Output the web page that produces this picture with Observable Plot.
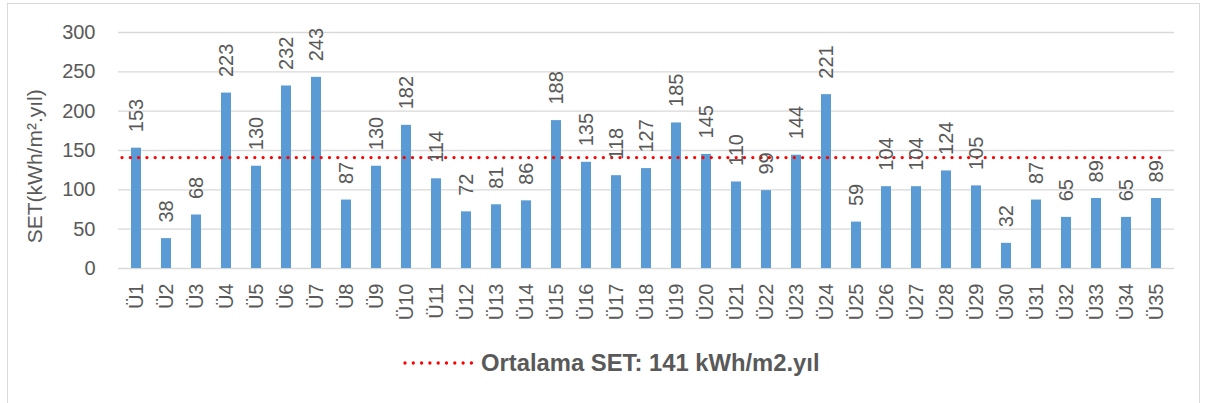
<!DOCTYPE html>
<html><head><meta charset="utf-8">
<script src="https://cdn.jsdelivr.net/npm/d3@7"></script>
<script src="https://cdn.jsdelivr.net/npm/@observablehq/plot@0.6"></script>
<style>
body{margin:0;background:#fff;font-family:"Liberation Sans",Arial,sans-serif;}
#wrap{position:relative;width:1208px;height:403px;overflow:hidden;background:#fff;}
#frame{position:absolute;left:7px;top:3px;width:1193px;height:430px;border:1px solid #d9d9d9;box-sizing:border-box;}
#chart{position:absolute;left:0;top:0;}
#legend{position:absolute;left:403px;top:348px;height:30px;display:flex;align-items:center;color:#595959;font-weight:bold;font-size:23.8px;font-family:"Liberation Sans",Arial,sans-serif;white-space:nowrap;}
#legend svg{margin-right:8px;}
</style>
</head><body>
<div id="wrap"><div id="frame"></div><div id="chart"></div>
<div id="legend"><svg width="70" height="8"><line x1="2" x2="70" y1="4" y2="4" stroke="#FF0000" stroke-width="3.3" stroke-dasharray="0 8.3" stroke-linecap="round"/></svg><span id="legtext"></span></div>
</div>
<script>
const categories = ["Ü1","Ü2","Ü3","Ü4","Ü5","Ü6","Ü7","Ü8","Ü9","Ü10","Ü11","Ü12","Ü13","Ü14","Ü15","Ü16","Ü17","Ü18","Ü19","Ü20","Ü21","Ü22","Ü23","Ü24","Ü25","Ü26","Ü27","Ü28","Ü29","Ü30","Ü31","Ü32","Ü33","Ü34","Ü35"];
const values = [153,38,68,223,130,232,243,87,130,182,114,72,81,86,188,135,118,127,185,145,110,99,144,221,59,104,104,124,105,32,87,65,89,65,89];
const average = 141;
const yTicks = [0,50,100,150,200,250,300];
const yLabel = "SET(kWh/m².yıl)";
const legendLabel = "Ortalama SET: 141 kWh/m2.yıl";

const data = categories.map((c,i)=>({cat:c, val:values[i]}));
const txt = "#595959";

const chart = Plot.plot({
  width:1208, height:330,
  marginLeft:118, marginRight:34, marginTop:32, marginBottom:62,
  style:{fontFamily:'"Liberation Sans",Arial,sans-serif', color:txt, background:"transparent"},
  x:{domain:categories, paddingInner:0.67, paddingOuter:0.335, label:null},
  y:{domain:[0,300], label:null},
  marks:[
    Plot.gridY(yTicks, {stroke:"#d9d9d9", strokeOpacity:1, strokeWidth:1.3}),
    Plot.barY(data, {x:"cat", y:"val", fill:"#5B9BD5"}),
    Plot.ruleY([average], {stroke:"#FF0000", strokeWidth:3.3, strokeDasharray:"0 8.3", strokeLinecap:"round", insetLeft:4, insetRight:14}),
    Plot.text(data, {x:"cat", y:"val", text:d=>String(d.val), rotate:-90, textAnchor:"start", lineAnchor:"middle", dy:-16, fontSize:20, fill:txt}),
    Plot.axisY({ticks:yTicks, tickSize:0, tickPadding:23, fontSize:20, label:null}),
    Plot.axisX({tickRotate:-90, tickSize:0, tickPadding:15, fontSize:20, label:null}),
    Plot.text([yLabel], {frameAnchor:"left", y:[130], text:d=>d, rotate:-90, dx:-83, textAnchor:"middle", lineAnchor:"middle", fontSize:21, fill:txt})
  ]
});
document.getElementById("chart").appendChild(chart);
document.getElementById("legtext").textContent = legendLabel;
</script>
</body></html>
